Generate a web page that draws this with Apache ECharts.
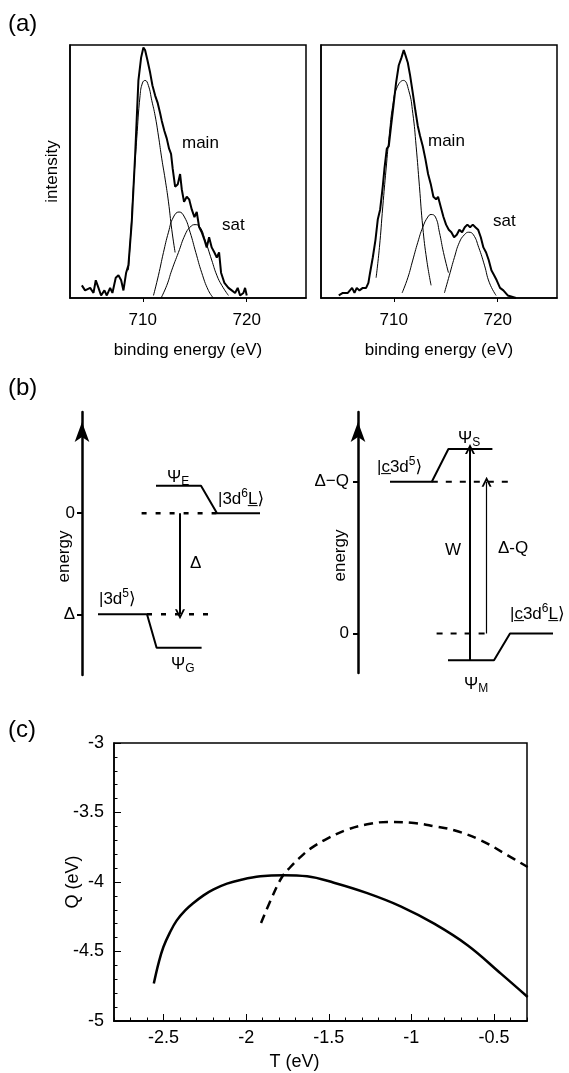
<!DOCTYPE html>
<html>
<head>
<meta charset="utf-8">
<script src="https://cdn.jsdelivr.net/npm/echarts@6/dist/echarts.min.js"></script>
<style>
  html, body { margin: 0; padding: 0; background: #fff; }
  #chart { width: 569px; height: 1073px; }
</style>
</head>
<body>
<div id="chart"></div>
<script>
// ---------- (a) Fe 2p photoemission spectra: [binding energy (eV), intensity] ----------
const energyTicks = [710, 720];

const spectrumLeft = [
  [704.14,0.05],[704.45,0.03],[704.94,0.04],[705.26,0.02],[705.48,0.07],[705.74,0.04],[705.99,0.01],
  [706.31,0.03],[706.54,0.01],[706.86,0.04],[707.08,0.02],[707.40,0.08],[707.66,0.09],[707.92,0.07],
  [708.14,0.03],[708.40,0.10],[708.62,0.13],[708.94,0.30],[709.26,0.56],[709.58,0.86],[709.84,0.95],
  [710.06,0.99],[710.22,0.98],[710.45,0.94],[710.71,0.89],[710.93,0.84],[711.19,0.80],[711.44,0.77],
  [711.67,0.73],[711.83,0.70],[712.08,0.66],[712.31,0.63],[712.53,0.59],[712.72,0.57],[712.88,0.51],
  [713.11,0.44],[713.37,0.45],[713.59,0.49],[713.75,0.43],[713.97,0.38],[714.23,0.40],[714.46,0.39],
  [714.71,0.35],[714.97,0.32],[715.19,0.34],[715.42,0.28],[715.67,0.26],[715.93,0.23],[716.15,0.20],
  [716.38,0.24],[716.63,0.20],[716.89,0.18],[717.12,0.16],[717.34,0.18],[717.53,0.10],[717.85,0.06],
  [718.24,0.04],[718.56,0.03],[718.88,0.02],[719.13,0.04],[719.36,0.01],[719.68,0.02],[719.84,0.04],
  [720.00,0.01]
];
const mainLeft1 = [
  [708.62,0.11],[708.88,0.28],[709.10,0.44],[709.42,0.63],[709.74,0.80],[709.97,0.85],[710.22,0.86],
  [710.54,0.84],[710.87,0.78],[711.19,0.72],[711.51,0.64],[711.83,0.55],[712.15,0.47],[712.47,0.38],
  [712.79,0.27],[713.11,0.18]
];
const mainLeft2 = [
  [711.03,0.01],[711.51,0.09],[711.99,0.18],[712.47,0.26],[712.95,0.32],[713.49,0.34],[714.01,0.32],
  [714.55,0.26],[715.10,0.18],[715.67,0.10],[716.31,0.03],[716.79,0.00]
];
const satLeft = [
  [711.76,0.00],[712.31,0.05],[712.79,0.11],[713.43,0.18],[714.07,0.25],[714.55,0.28],[715.03,0.29],
  [715.51,0.28],[715.99,0.23],[716.63,0.15],[717.12,0.09],[717.60,0.05],[718.24,0.01]
];

const spectrumRight = [
  [704.71,0.01],[705.10,0.02],[705.58,0.02],[705.99,0.04],[706.22,0.02],[706.44,0.04],[706.70,0.03],
  [707.02,0.04],[707.34,0.04],[707.56,0.06],[707.72,0.10],[707.98,0.16],[708.24,0.23],[708.46,0.31],
  [708.69,0.35],[708.94,0.44],[709.10,0.51],[709.33,0.59],[709.52,0.60],[709.74,0.68],[709.97,0.76],
  [710.22,0.85],[710.48,0.92],[710.74,0.95],[710.96,0.98],[711.12,0.96],[711.35,0.93],[711.57,0.88],
  [711.83,0.81],[712.08,0.74],[712.31,0.68],[712.53,0.64],[712.79,0.60],[713.04,0.55],[713.30,0.49],
  [713.56,0.45],[713.81,0.40],[714.07,0.39],[714.26,0.40],[714.52,0.36],[714.78,0.32],[715.03,0.29],
  [715.29,0.27],[715.54,0.26],[715.80,0.24],[716.06,0.25],[716.31,0.27],[716.57,0.26],[716.83,0.28],
  [717.08,0.29],[717.34,0.28],[717.60,0.29],[717.85,0.28],[718.11,0.27],[718.37,0.24],[718.62,0.20],
  [718.88,0.18],[719.13,0.15],[719.39,0.11],[719.65,0.09],[719.90,0.07],[720.22,0.04],[720.54,0.03],
  [720.96,0.01],[721.76,0.00]
];
const mainRight1 = [
  [708.30,0.08],[708.62,0.20],[708.94,0.36],[709.26,0.51],[709.58,0.65],[709.90,0.76],[710.29,0.83],
  [710.93,0.86],[711.44,0.82],[711.83,0.73],[712.15,0.60],[712.47,0.44],[712.79,0.28],[713.17,0.15],
  [713.59,0.05]
];
const mainRight2 = [
  [710.80,0.02],[711.35,0.08],[711.83,0.15],[712.31,0.22],[712.79,0.28],[713.27,0.32],[713.59,0.33],
  [714.01,0.32],[714.39,0.26],[714.78,0.18],[715.26,0.10]
];
const satRight = [
  [714.87,0.02],[715.35,0.09],[715.83,0.16],[716.31,0.22],[716.79,0.25],[717.21,0.26],[717.66,0.25],
  [718.17,0.20],[718.72,0.13],[719.20,0.06],[719.84,0.01]
];

// ---------- (b) level schemes: [horizontal position, energy] ----------
// ground-state scheme, energy in units of Δ (Δ drawn at −1)
const groundTicks = [0, -1];
const groundTickNames = { '0': '0', '-1': 'Δ' };
const levelE = [[3.7, 0.27], [5.95, 0.27], [6.75, 0], [8.9, 0]];
const levelG = [[0.8, -1], [3.25, -1], [3.73, -1.33], [5.98, -1.33]];
const groundRefTop = [[2.98, 0], [6.75, 0]];
const groundRefBottom = [[3.25, -1], [6.55, -1]];
const arrowDelta = [[4.9, 0], [4.9, -1]];

// core-hole scheme, energy in units of Δ−Q
const coreTicks = [0, 1];
const coreTickNames = { '0': '0', '1': 'Δ−Q' };
const levelS = [[1.6, 1], [3.69, 1], [4.52, 1.216], [6.72, 1.216]];
const levelM = [[4.5, -0.176], [6.8, -0.176], [7.6, 0], [9.75, 0]];
const coreRefTop = [[3.69, 1], [7.52, 1]];
const coreRefBottom = [[3.93, 0], [6.6, 0]];
const arrowW = [[5.6, -0.176], [5.6, 1.216]];
const arrowDQ = [[6.43, 0], [6.43, 1]];

// ---------- (c) Q versus T ----------
const tTicks = [-2.5, -2, -1.5, -1, -0.5];
const qSolid = [
  [-2.559,-4.731],[-2.531,-4.587],[-2.501,-4.468],[-2.460,-4.360],[-2.420,-4.276],[-2.369,-4.204],
  [-2.319,-4.151],[-2.258,-4.096],[-2.197,-4.053],[-2.116,-4.012],[-2.035,-3.985],[-1.914,-3.959],
  [-1.773,-3.951],[-1.631,-3.959],[-1.469,-4.005],[-1.267,-4.080],[-1.065,-4.175],[-0.862,-4.300],
  [-0.660,-4.455],[-0.458,-4.659],[-0.296,-4.827]
];
const qDashed = [
  [-1.910,-4.295],[-1.843,-4.108],[-1.783,-3.964],[-1.732,-3.892],[-1.682,-3.832],[-1.611,-3.760],
  [-1.509,-3.688],[-1.388,-3.623],[-1.267,-3.585],[-1.145,-3.568],[-0.984,-3.576],[-0.862,-3.599],
  [-0.741,-3.628],[-0.579,-3.700],[-0.417,-3.808],[-0.296,-3.892]
];

const FONT = "'Liberation Sans', Arial, 'DejaVu Sans', sans-serif";
const INK = '#000';
const chevron = 'path://M5,0L10,10L8,10L5,4L2,10L0,10Z';

const chart = echarts.init(document.getElementById('chart'), null, { renderer: 'canvas' });

function spectrumAxis(grid) {
  return {
    gridIndex: grid, type: 'value', min: 703, max: 725.7,
    name: 'binding energy (eV)', nameLocation: 'middle', nameGap: 44, nameMoveOverlap: false,
    nameTextStyle: { color: INK, fontSize: 17, fontFamily: FONT },
    axisLine: { show: true, lineStyle: { color: INK, width: 1.5 } },
    axisTick: { show: true, inside: false, length: 4, customValues: energyTicks, lineStyle: { color: INK } },
    axisLabel: { show: true, customValues: energyTicks, margin: 14, color: INK, fontSize: 17, fontFamily: FONT },
    splitLine: { show: false }
  };
}

function line(data, x, y, width, dash, smooth) {
  return {
    type: 'line', xAxisIndex: x, yAxisIndex: y, data: data,
    symbol: 'none', smooth: smooth || false, silent: true, animation: false,
    lineStyle: { color: INK, width: width, type: dash || 'solid' }, z: 3
  };
}

function arrow(coords, x, y, width) {
  return {
    type: 'lines', coordinateSystem: 'cartesian2d', xAxisIndex: x, yAxisIndex: y,
    symbol: ['none', chevron], symbolSize: [9, 10], silent: true, animation: false,
    lineStyle: { color: INK, width: width, opacity: 1, curveness: 0 },
    data: [{ coords: coords }]
  };
}

const RICH = {
  n: { fontSize: 17, fontFamily: FONT, lineHeight: 22 },
  sub: { fontSize: 12, fontFamily: FONT, lineHeight: 12, verticalAlign: 'bottom' },
  sup: { fontSize: 12, fontFamily: FONT, lineHeight: 12, verticalAlign: 'top' }
};
function txt(x, y, text, extra) {
  return {
    type: 'text', x: x, y: y, silent: true, z: 10,
    style: Object.assign({ text: text, fill: INK, fontSize: 17, fontFamily: FONT,
      align: 'left', verticalAlign: 'middle', rich: RICH }, extra || {})
  };
}

function energyAxis(grid, min, max, ticks, names, margin) {
  return {
    gridIndex: grid, type: 'value', min: min, max: max,
    name: 'energy', nameLocation: 'middle', nameGap: 9, nameMoveOverlap: false,
    nameTextStyle: { color: INK, fontSize: 17, fontFamily: FONT, padding: [0, 26, 0, 0] },
    axisLine: { show: true, symbol: ['none', 'arrow'], symbolSize: [11, 20], symbolOffset: [0, -10],
      lineStyle: { color: INK, width: 2.5 } },
    axisTick: { show: true, inside: false, length: 5, customValues: ticks, lineStyle: { color: INK, width: 2 } },
    axisLabel: { show: true, customValues: ticks, margin: margin, color: INK, fontSize: 17, fontFamily: FONT,
      formatter: function (v) { return names[String(v)]; } },
    splitLine: { show: false }
  };
}

const option = {
  backgroundColor: '#fff',
  animation: false,
  grid: [
    { left: 70, top: 45, width: 236, height: 253, show: true, borderColor: INK, borderWidth: 1.5 },
    { left: 321, top: 45, width: 236, height: 253, show: true, borderColor: INK, borderWidth: 1.5 },
    { left: 82, top: 412, width: 200, height: 263 },
    { left: 358, top: 412, width: 200, height: 261 },
    { left: 114, top: 743, width: 413, height: 278, show: true, borderColor: INK, borderWidth: 1.5 }
  ],
  xAxis: [
    spectrumAxis(0),
    spectrumAxis(1),
    { gridIndex: 2, type: 'value', min: 0, max: 10, show: false },
    { gridIndex: 3, type: 'value', min: 0, max: 10, show: false },
    {
      // T axis: short ticks every 0.1 eV, labels at the half-eV marks
      gridIndex: 4, type: 'value', min: -2.8, max: -0.3, interval: 0.1, position: 'bottom',
      name: 'T (eV)', nameLocation: 'middle', nameGap: 32, nameMoveOverlap: false,
      nameTextStyle: { color: INK, fontSize: 18, fontFamily: FONT, padding: [0, 52, 0, 0] },
      axisLine: { show: true, lineStyle: { color: INK, width: 1.5 } },
      axisTick: { show: true, inside: true, length: 3.5, lineStyle: { color: INK } },
      axisLabel: { show: true, customValues: tTicks, margin: 8, color: INK, fontSize: 18, fontFamily: FONT,
        formatter: function (v) { return String(v); } },
      splitLine: { show: false }
    },
    {
      // longer ticks at the labelled half-eV marks
      gridIndex: 4, type: 'value', min: -2.8, max: -0.3, position: 'bottom',
      axisLine: { show: true, lineStyle: { color: INK, width: 1.5 } },
      axisTick: { show: true, inside: true, length: 7, customValues: tTicks, lineStyle: { color: INK } },
      axisLabel: { show: false }, splitLine: { show: false }
    }
  ],
  yAxis: [
    {
      gridIndex: 0, type: 'value', min: 0, max: 1,
      name: 'intensity', nameLocation: 'middle', nameGap: 9, nameMoveOverlap: false,
      nameTextStyle: { color: INK, fontSize: 17, fontFamily: FONT },
      axisLine: { show: true, lineStyle: { color: INK, width: 1.5 } },
      axisTick: { show: false }, axisLabel: { show: false }, splitLine: { show: false }
    },
    {
      gridIndex: 1, type: 'value', min: 0, max: 1,
      axisLine: { show: true, lineStyle: { color: INK, width: 1.5 } },
      axisTick: { show: false }, axisLabel: { show: false }, splitLine: { show: false }
    },
    energyAxis(2, -1.6, 1, groundTicks, groundTickNames, 7),
    energyAxis(3, -0.26, 1.46, coreTicks, coreTickNames, 9),
    {
      gridIndex: 4, type: 'value', min: -5, max: -3, interval: 0.5,
      name: 'Q (eV)', nameLocation: 'middle', nameGap: 32, nameMoveOverlap: false,
      nameTextStyle: { color: INK, fontSize: 18, fontFamily: FONT },
      axisLine: { show: true, lineStyle: { color: INK, width: 1.5 } },
      axisTick: { show: true, inside: true, length: 7, lineStyle: { color: INK } },
      minorTick: { show: true, splitNumber: 5, length: 3.5, lineStyle: { color: INK } },
      axisLabel: { show: true, margin: 10, color: INK, fontSize: 18, fontFamily: FONT },
      splitLine: { show: false }
    }
  ],
  series: [
    // (a) left spectrum and its fitted components
    line(spectrumLeft, 0, 0, 2),
    line(mainLeft1, 0, 0, 1, 'solid', true),
    line(mainLeft2, 0, 0, 1, 'solid', true),
    line(satLeft, 0, 0, 1, 'solid', true),
    // (a) right spectrum and its fitted components
    line(spectrumRight, 1, 1, 2),
    line(mainRight1, 1, 1, 1, 'solid', true),
    line(mainRight2, 1, 1, 1, 'solid', true),
    line(satRight, 1, 1, 1, 'solid', true),
    // (b) ground-state levels
    line(levelE, 2, 2, 2),
    line(levelG, 2, 2, 2),
    line(groundRefTop, 2, 2, 2.5, [5, 9]),
    line(groundRefBottom, 2, 2, 2.5, [5, 9]),
    arrow(arrowDelta, 2, 2, 2),
    // (b) core-hole levels
    line(levelS, 3, 3, 2),
    line(levelM, 3, 3, 2),
    line(coreRefTop, 3, 3, 2, [6, 8]),
    line(coreRefBottom, 3, 3, 2, [6, 8]),
    arrow(arrowW, 3, 3, 2),
    arrow(arrowDQ, 3, 3, 1.2),
    // (c) Q(T) branches
    line(qSolid, 4, 4, 2.5, 'solid', 0.4),
    line(qDashed, 4, 4, 2.5, [9, 6], 0.4)
  ],
  graphic: [
    txt(8, 24, '(a)', { fontSize: 24 }),
    txt(8, 388, '(b)', { fontSize: 24 }),
    txt(8, 730, '(c)', { fontSize: 24 }),
    txt(182, 143, 'main'),
    txt(222, 225, 'sat'),
    txt(428, 141, 'main'),
    txt(493, 221, 'sat'),
    txt(167, 477, '{n|Ψ}{sub|E}'),
    txt(218, 499, '{n||3d}{sup|6}{n|L\u0332⟩}'),
    txt(99, 599, '{n||3d}{sup|5}{n|⟩}'),
    txt(190, 563, 'Δ'),
    txt(171, 664, '{n|Ψ}{sub|G}'),
    txt(458, 438, '{n|Ψ}{sub|S}'),
    txt(377, 467, '{n||c\u03323d}{sup|5}{n|⟩}'),
    txt(453, 550, 'W', { align: 'center' }),
    txt(498, 548, 'Δ-Q'),
    txt(510, 614, '{n||c\u03323d}{sup|6}{n|L\u0332⟩}'),
    txt(464, 684, '{n|Ψ}{sub|M}')
  ]
};

chart.setOption(option);
</script>
</body>
</html>
